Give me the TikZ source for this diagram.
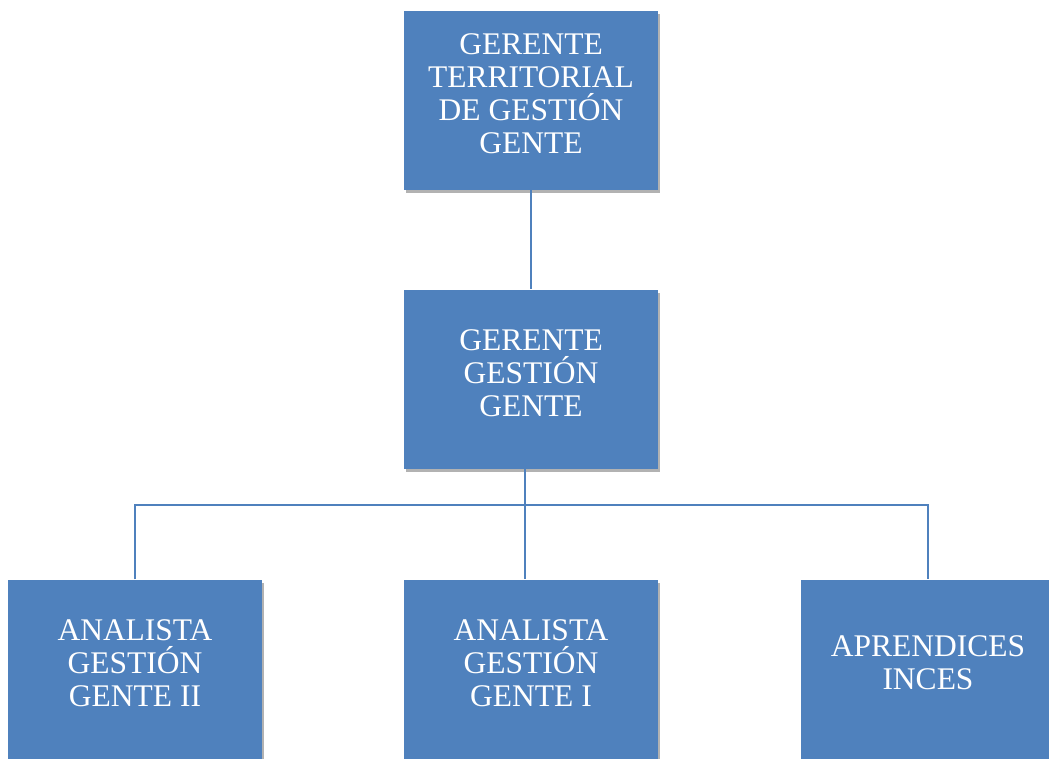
\documentclass[tikz,border=0pt]{standalone}
\usepackage{fontspec}
\setmainfont{Liberation Serif}
\usetikzlibrary{shadows}
\definecolor{boxblue}{HTML}{4F81BD}
\begin{document}
\begin{tikzpicture}[x=1pt,y=-1pt,
  orgbox/.style={fill=boxblue, draw=none, minimum width=254pt, minimum height=179pt,
    inner sep=0pt, drop shadow={shadow xshift=1.5pt, shadow yshift=-3pt, opacity=0.3, fill=black}},
  orgtext/.style={text=white, align=center, font=\fontsize{31.5}{33}\selectfont},
  link/.style={draw=boxblue, line width=1.6pt}]
\useasboundingbox (0,0) rectangle (1049,758);
\begin{scope}
\clip (0,0) rectangle (1049,758);
\node[orgbox] (top) at (531,100.5) {};
\node[orgbox] (mid) at (531,379) {};
\node[orgbox, minimum height=181pt] (b1) at (135,670) {};
\node[orgbox, minimum height=181pt] (b2) at (531,670) {};
\node[orgbox, minimum height=181pt] (b3) at (928,670) {};
\end{scope}
\node[orgtext] (ttop) at (531,94) {GERENTE\\TERRITORIAL\\DE GESTIÓN\\GENTE};
\node[orgtext] (tmid) at (531,373) {GERENTE\\GESTIÓN\\GENTE};
\node[orgtext] (tb1) at (135,663) {ANALISTA\\GESTIÓN\\GENTE II};
\node[orgtext] (tb2) at (531,663) {ANALISTA\\GESTIÓN\\GENTE I};
\node[orgtext] (tb3) at (928,663) {APRENDICES\\INCES};
\coordinate (bus) at (525,505);
\draw[link] (top.south) -- (mid.north);
\draw[link] (mid.south -| bus) -- (b2.north -| bus);
\draw[link] (b1.north) -- (b1.north |- bus) -- (b3.north |- bus) -- (b3.north);
\end{tikzpicture}
\end{document}
